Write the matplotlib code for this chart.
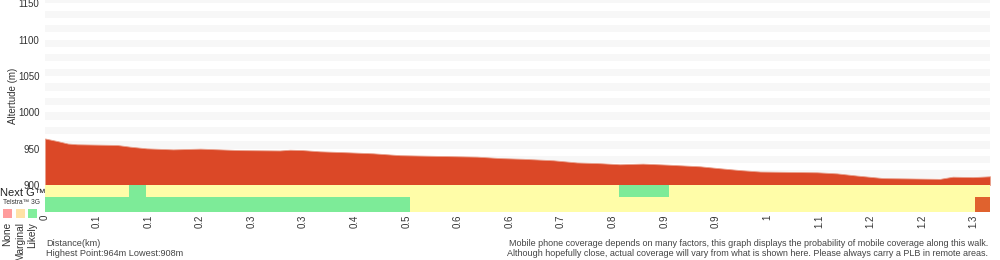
import numpy as np
import matplotlib
matplotlib.use("Agg")
from matplotlib import pyplot as plt
from matplotlib.patches import Rectangle

plt.rcParams['font.family'] = ['Liberation Sans', 'DejaVu Sans']

# elevation profile (km, m)
dist_km = [0, 0.017, 0.032, 0.045, 0.101, 0.119, 0.142, 0.179, 0.217, 0.244,
           0.272, 0.328, 0.342, 0.360, 0.384, 0.422, 0.458, 0.496, 0.548, 0.603,
           0.636, 0.668, 0.710, 0.743, 0.775, 0.803, 0.835, 0.869, 0.915, 0.943,
           0.971, 0.999, 1.078, 1.106, 1.134, 1.171, 1.250, 1.268, 1.296, 1.320]
elev_m = [964, 960.5, 957, 956, 955, 952.7, 950.4, 949, 950, 949,
          948, 947.5, 948.5, 948, 946.3, 945, 943.6, 941, 940, 939,
          937, 936, 934, 931, 930, 928.5, 929.4, 928, 925.7, 923,
          920.5, 918.5, 917.5, 916, 913, 909.5, 908.5, 911.4, 910.8, 912]

# coverage segments: start km, end km, level
nextg_start = [0, 0.117, 0.141, 0.802, 0.872]
nextg_end = [0.117, 0.141, 0.802, 0.872, 1.320]
nextg_level = ['Marginal', 'Likely', 'Marginal', 'Likely', 'Marginal']

tel3g_start = [0, 0.510, 1.299]
tel3g_end = [0.510, 1.299, 1.320]
tel3g_level = ['Likely', 'Marginal', 'None']

tick_labels = ['0', '0.1', '0.1', '0.2', '0.3', '0.3', '0.4', '0.5', '0.6', '0.6',
               '0.7', '0.8', '0.9', '0.9', '1', '1.1', '1.2', '1.2', '1.3']
y_ticks = [900, 950, 1000, 1050, 1100, 1150]

bar_colors = {'None': '#e0622e', 'Marginal': '#fffda8', 'Likely': '#7deb98'}
legend_colors = {'None': '#ff9c9c', 'Marginal': '#ffe2a6', 'Likely': '#82ee9c'}
txt = '#444444'

W, H = 1000, 260
fig = plt.figure(figsize=(10, 2.6), dpi=100)


def box(x0, y0, x1, y1):
    # pixel box (top-left origin) -> figure fraction
    return [x0 / W, 1 - y1 / H, (x1 - x0) / W, (y1 - y0) / H]


total = dist_km[-1]

# elevation
ax = fig.add_axes(box(45, 0, 990, 185))
for b in np.arange(910, 1160, 20):
    ax.axhspan(b, b + 10, color='#f7f7f7', lw=0, zorder=0)
ax.fill_between(dist_km, elev_m, 900, color='#db4827', lw=0.6,
                edgecolor='#e9a08c', zorder=2)
ax.set_xlim(0, total)
ax.set_ylim(900, 1154.5)
ax.set_yticks(y_ticks)
ax.set_yticklabels([str(v) for v in y_ticks], fontsize=7, color='#333333')
ax.tick_params(axis='y', length=0, pad=4)
ax.set_xticks([])
ax.set_ylabel('Altertude (m)', fontsize=7, color='#333333')
ax.yaxis.set_label_coords(-(45 - 18) / 945, 0.48)
for s in ax.spines.values():
    s.set_visible(False)

# coverage strips
cax = fig.add_axes(box(45, 185, 990, 211.5))
cax.set_xlim(0, total)
cax.set_ylim(0, 26.5)
for s, e, lv in zip(nextg_start, nextg_end, nextg_level):
    cax.broken_barh([(s, e - s)], (14.5, 12), color=bar_colors[lv], lw=0)
for s, e, lv in zip(tel3g_start, tel3g_end, tel3g_level):
    cax.broken_barh([(s, e - s)], (0, 14.5), color=bar_colors[lv], lw=0)
step = total * 51.6 / 945
cax.set_xticks([i * step for i in range(len(tick_labels))])
cax.set_xticklabels(tick_labels, rotation=90, fontsize=7, color='#333333')
cax.tick_params(axis='x', length=0, pad=2)
cax.set_yticks([])
for s in cax.spines.values():
    s.set_visible(False)

# left legend
fig.text(0 / W, 1 - 192.5 / H, 'Next G\u2122', fontsize=8, color='#222222',
         ha='left', va='center')
fig.text(3 / W, 1 - 202 / H, 'Telstra\u2122 3G', fontsize=4.8, color='#333333',
         ha='left', va='center')
for i, lv in enumerate(['None', 'Marginal', 'Likely']):
    x0 = 3 + i * 12.5
    fig.patches.append(Rectangle((x0 / W, 1 - 218 / H), 9 / W, 9 / H,
                                 transform=fig.transFigure,
                                 color=legend_colors[lv], lw=0))
    fig.text((x0 + 4.5) / W, 1 - 222 / H, lv, rotation=90, fontsize=7.3,
             color='#333333', ha='center', va='top')

# bottom notes
fig.text(46 / W, 1 - 243 / H, 'Distance(km)', fontsize=6.6, color=txt,
         ha='left', va='center')
fig.text(46 / W, 1 - 253 / H, 'Highest Point:964m Lowest:908m', fontsize=6.6,
         color=txt, ha='left', va='center')
fig.text(988 / W, 1 - 243 / H,
         'Mobile phone coverage depends on many factors, this graph displays '
         'the probability of mobile coverage along this walk.',
         fontsize=6.5, color=txt, ha='right', va='center')
fig.text(988 / W, 1 - 253 / H,
         'Although hopefully close, actual coverage will vary from what is '
         'shown here. Please always carry a PLB in remote areas.',
         fontsize=6.5, color=txt, ha='right', va='center')

fig.savefig('out.png', dpi=100)
